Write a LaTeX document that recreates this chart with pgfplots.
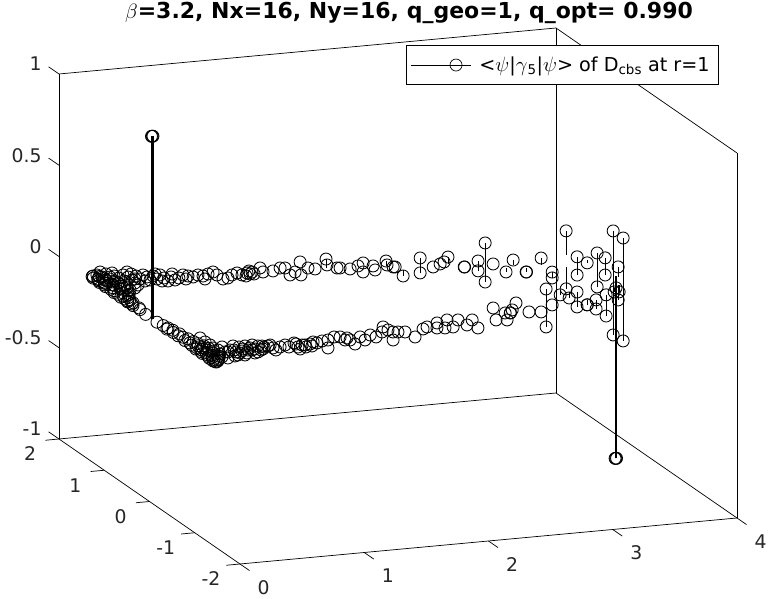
\documentclass[border=0pt]{standalone}
\usepackage{fontspec}
\setmainfont{DejaVu Sans}
\usepackage{pgfplots}
\usepackage{pgfplotstable}
\pgfplotsset{compat=1.18}

% real part, imaginary part, <psi|gamma5|psi>
\pgfplotstableread{
x y z
0.016 0 1.0
0.022 0 1.0
0.028 0 1.0
3.747 0 -1.0
3.753 0 -1.0
3.759 0 -1.0
0.03 1.35 0
0.08 1.33 0
0.02 1.30 0
0.10 1.27 0
0.04 1.25 0
0.13 1.23 0
0.03 1.21 0
0.09 1.19 0
0.02 1.16 0
0.12 1.14 0
0.05 1.12 0
0.15 1.10 0
0.03 1.08 0
0.09 1.05 0
0.02 1.03 0
0.13 1.00 0
0.06 0.98 0
0.17 0.96 0
0.03 0.94 0
0.10 0.92 0
0.04 0.89 0
0.14 0.86 0
0.02 0.84 0
0.08 0.81 0
0.03 0.78 0
0.11 0.75 0
0.05 0.72 0
0.02 0.69 0
0.07 0.66 0
0.03 0.63 0
0.06 0.60 0
0.03 0.57 0
0.02 0.54 0
0.05 0.50 0
0.03 0.47 0
0.02 0.42 0
0.04 0.34 0
0.03 0.29 0
0.02 0.14 0
0.216 0.913 0
0.268 0.99 0
0.094 0.733 0
0.091 1.055 0
0.11 0.952 0
0.176 1.024 0
0.16 0.869 0
0.054 1.132 0
0.267 1.054 0
0.02 -0.11 0
0.03 -0.22 0
0.04 -0.30 0
0.02 -0.33 0
0.05 -0.38 0
0.03 -0.44 0
0.06 -0.50 0
0.03 -0.55 0
0.05 -0.60 0
0.07 -0.66 0
0.03 -0.70 0
0.08 -0.75 0
0.04 -0.78 0
0.09 -0.82 0
0.03 -0.85 0
0.07 -0.88 0
0.11 -0.90 0
0.04 -0.93 0
0.08 -0.95 0
0.02 -0.97 0
0.12 -0.98 0
0.05 -1.00 0
0.09 -1.03 0
0.03 -1.05 0
0.13 -1.07 0
0.06 -1.09 0
0.02 -1.11 0
0.10 -1.13 0
0.04 -1.15 0
0.14 -1.17 0
0.07 -1.19 0
0.03 -1.21 0
0.11 -1.23 0
0.05 -1.25 0
0.02 -1.27 0
0.09 -1.29 0
0.04 -1.31 0
0.07 -1.33 0
0.02 -1.35 0
0.05 -1.37 0
0.03 -1.39 0
0.03 -1.37 0
0.163 -0.892 0
0.158 -0.794 0
0.167 -1.054 0
0.153 -0.984 0
0.164 -0.668 0
0.227 -1.267 0
0.308 -1.265 0
0.156 -1.305 0
0.399 -1.234 0
0.124 -1.261 0
0.227 -0.979 0
0.218 -1.136 0
0.281 -1.096 0
0.258 -1.247 0
0.356 -1.091 0
0.342 -1.213 0
0.409 -1.143 0
0.431 -1.214 0
0.498 -1.143 0
0.589 -1.049 0
0.579 -1.205 0
0.197 -1.128 0
0.253 -1.085 0
0.315 -0.98 0
0.275 -1.157 0
0.293 -1.195 0
0.347 -1.024 0
0.328 -1.144 0
0.40 -1.011 0
0.416 -1.08 0
0.38 -1.132 0
0.461 -1.002 0
0.441 -1.122 0
0.492 -1.045 0
0.521 -1.056 0
0.473 -1.166 0
0.525 -1.089 0
0.563 -1.071 0
0.579 -1.14 0
0.639 -1.131 0
0.695 -1.088 0
0.702 -1.154 0
0.779 -1.054 0
0.783 -1.088 0
0.766 -1.178 0
0.761 -1.24 0
0.816 -1.132 0
0.823 -1.198 0
0.837 -1.14 0
0.883 -1.125 0
0.876 -1.186 0
0.925 -1.076 0
0.942 -1.114 0
0.999 -1.071 0
1.051 -1.059 0
0.969 -1.284 0
1.125 -0.99 0
1.168 -1.005 0
1.172 -1.103 0
1.207 -1.051 0
1.208 -1.116 0
1.202 -1.242 0
1.31 -1.057 0
1.314 -1.155 0
1.402 -1.028 0
1.423 -1.099 0
1.517 -0.974 0
1.576 -0.835 0
1.58 -0.932 0
1.595 -1.003 0
1.513 -1.229 0
1.63 -1.016 0
1.68 -1.034 0
1.70 -1.201 0
1.839 -0.996 0
1.888 -0.95 0
2.00 -0.863 0
1.948 -1.004 0
2.102 -0.804 0
2.005 -1.025 0
2.073 -1.018 0
2.18 -0.833 0
2.192 -0.998 0
2.28 -0.87 0
2.239 -1.111 0
2.552 -0.587 0
2.45 -0.932 0
2.586 -0.759 0
2.528 -0.961 0
2.766 -0.505 0
2.622 -0.772 0
2.625 -0.770 0
2.667 -0.692 0
2.766 -0.792 0
2.852 -0.824 0
3.002 -0.655 0
0.041 1.36 0
0.079 1.379 0
0.045 1.263 0
0.095 1.309 0
0.154 1.384 0
0.092 1.215 0
0.152 1.288 0
0.19 1.306 0
0.146 1.162 0
0.204 1.237 0
0.264 1.311 0
0.21 1.139 0
0.279 1.241 0
0.332 1.318 0
0.277 1.147 0
0.346 1.248 0
0.344 1.154 0
0.406 1.259 0
0.414 1.192 0
0.405 1.10 0
0.467 1.204 0
0.464 1.109 0
0.527 1.215 0
0.524 1.119 0
0.522 1.024 0
0.585 1.129 0
0.582 1.034 0
0.63 1.08 0
0.69 1.155 0
0.715 1.113 0
0.741 1.071 0
0.796 1.115 0
0.822 1.073 0
0.878 1.117 0
0.934 1.16 0
0.931 1.066 0
0.933 0.937 0
0.978 0.952 0
0.132 1.455 0
0.207 1.396 0
0.146 1.098 0
0.323 1.385 0
0.308 1.167 0
0.359 1.084 0
0.502 1.256 0
0.48 1.039 0
0.623 1.211 0
0.67 1.034 0
0.805 0.984 0
1.038 1.027 0
1.094 1.07 0
1.109 1.001 0
1.127 0.961 0
1.165 1.044 0
1.177 1.008 0
1.205 0.997 0
1.199 1.095 0
1.211 1.058 0
1.309 1.151 0
1.289 1.03 0
1.37 1.033 0
1.451 1.098 0
1.486 1.085 0
1.45 0.875 0
1.516 0.946 0
1.655 1.216 0
1.528 0.847 0
1.649 1.025 0
1.689 0.979 0
1.777 0.978 0.049
1.815 1.061 0
1.855 0.95 0
1.877 0.942 0
1.938 0.888 0
2.025 0.952 0
2.092 1.023 0
1.999 0.769 0
2.132 0.913 0
2.105 0.794 0
2.224 0.879 0.027
2.241 0.904 0
2.264 0.831 0
2.278 0.826 0
2.304 0.721 -0.033
2.471 0.804 0.041
2.471 0.804 -0.041
2.548 0.727 0
2.628 0.794 0
2.684 0.773 0.038
2.677 0.84 0
2.768 0.646 0
2.771 0.644 0
2.877 0.639 0.027
2.877 0.639 -0.027
2.963 0.718 0.107
2.963 0.718 -0.107
3.004 0.655 0
3.136 0.575 0.027
3.055 0.509 -0.022
3.197 0.456 -0.022
3.200 0.454 -0.022
3.335 0.502 0.038
3.31 0.19 0.016
3.31 0.19 -0.016
2.928 -0.725 0.104
2.928 -0.725 -0.104
3.615 0.719 0.132
3.492 0.38 -0.12
3.213 -0.253 -0.027
3.256 -0.333 -0.033
3.58 0.38 0.05
3.58 0.38 -0.05
3.235 -0.566 0.041
3.235 -0.566 -0.041
3.713 0.523 -0.016
3.301 -0.606 -0.027
3.304 -0.604 -0.027
3.681 0.215 0.093
3.681 0.215 -0.093
3.774 0.293 0.047
3.774 0.293 -0.047
3.38 -0.81 0.058
3.38 -0.81 -0.058
3.319 -0.756 0.025
3.319 -0.756 -0.025
3.661 -0.194 0.285
3.661 -0.194 -0.285
3.665 -0.404 0.282
3.665 -0.404 -0.282
3.758 -0.038 0.055
3.676 -0.264 -0.082
3.682 -0.20 -0.027
3.683 -0.266 -0.038
3.617 -0.337 -0.022
}\eigs

\begin{document}
\begin{tikzpicture}[x=1pt,y=1pt]
\begin{axis}[
    at={(149.5pt,280pt)}, anchor=origin,
    x={(124.25pt,11.5pt)}, y={(-45.25pt,31.25pt)}, z={(0pt,182.5pt)},
    xmin=0, xmax=4, ymin=-2, ymax=2, zmin=-1, zmax=1,
    xtick={0,1,2,3,4}, ytick={-2,-1,0,1,2},
    ztick={-1,-0.5,0,0.5,1},
    xticklabels={0,1,2,3,4}, yticklabels={-2,-1,0,1,2},
    zticklabels={-1,-0.5,0,0.5,1},
    ticklabel style={font=\fontsize{18.8}{22}\selectfont, text=black!85},
    xticklabel style={anchor=center, xshift=23.5pt, yshift=-23.5pt},
    yticklabel style={anchor=center, xshift=-29pt, yshift=-15pt},
    zticklabel style={anchor=east, xshift=-14pt, yshift=10pt},
    major tick length=0pt,
    axis line style={line width=0.7pt},
    3d box=background,
    clip=false,
    legend style={at={(rel axis cs:1.146,0.5,1.106)}, anchor=north east,
      font=\fontsize{19.2}{22}\selectfont, draw=black, line width=0.7pt,
      inner xsep=4pt, inner ysep=9.5pt},
    legend image code/.code={
      \draw[black, line width=0.7pt] (0pt,0pt) -- (38pt,0pt);
      \draw[black, line width=0.7pt] (45pt,0pt) circle (6pt);
      \path (0pt,0pt) -- (60pt,0pt);
    },
]
\addplot3[only marks, black, mark=o, mark size=6pt, mark options={line width=0.85pt},
    error bars/.cd, z dir=minus, z explicit, error mark=none,
    error bar style={line width=0.8pt}]
  table[x=x, y=y, z=z, z error expr=\thisrow{z}] {\eigs};
\addlegendentry{\hspace*{6pt}<$\psi$|$\gamma$\textsubscript{5}|$\psi$> of D\textsubscript{cbs} at r=1\hspace*{3pt}}
% tick marks as MATLAB draws them, pointing out of the box
\pgfplotsinvokeforeach{0,1,2,3,4}{
  \draw[black, line width=0.7pt] (axis cs:#1,-2,-1) -- (axis cs:#1,-2.21,-1);
}
\pgfplotsinvokeforeach{-2,-1,0,1,2}{
  \draw[black, line width=0.7pt] (axis cs:0,#1,-1) -- (axis cs:-0.11,#1,-1);
}
\pgfplotsinvokeforeach{-1,-0.5,0,0.5,1}{
  \draw[black, line width=0.7pt] (axis cs:0,2,#1) -- (axis cs:0,2.23,#1);
}
\end{axis}
\node[font=\fontsize{22}{24}\selectfont\bfseries, text=black] at (409pt,586.5pt)
  {$\beta$=3.2, Nx=16, Ny=16, q\_geo=1, q\_opt= 0.990};
\pgfresetboundingbox
\useasboundingbox (0,0) rectangle (769pt,599pt);
\end{tikzpicture}
\end{document}
